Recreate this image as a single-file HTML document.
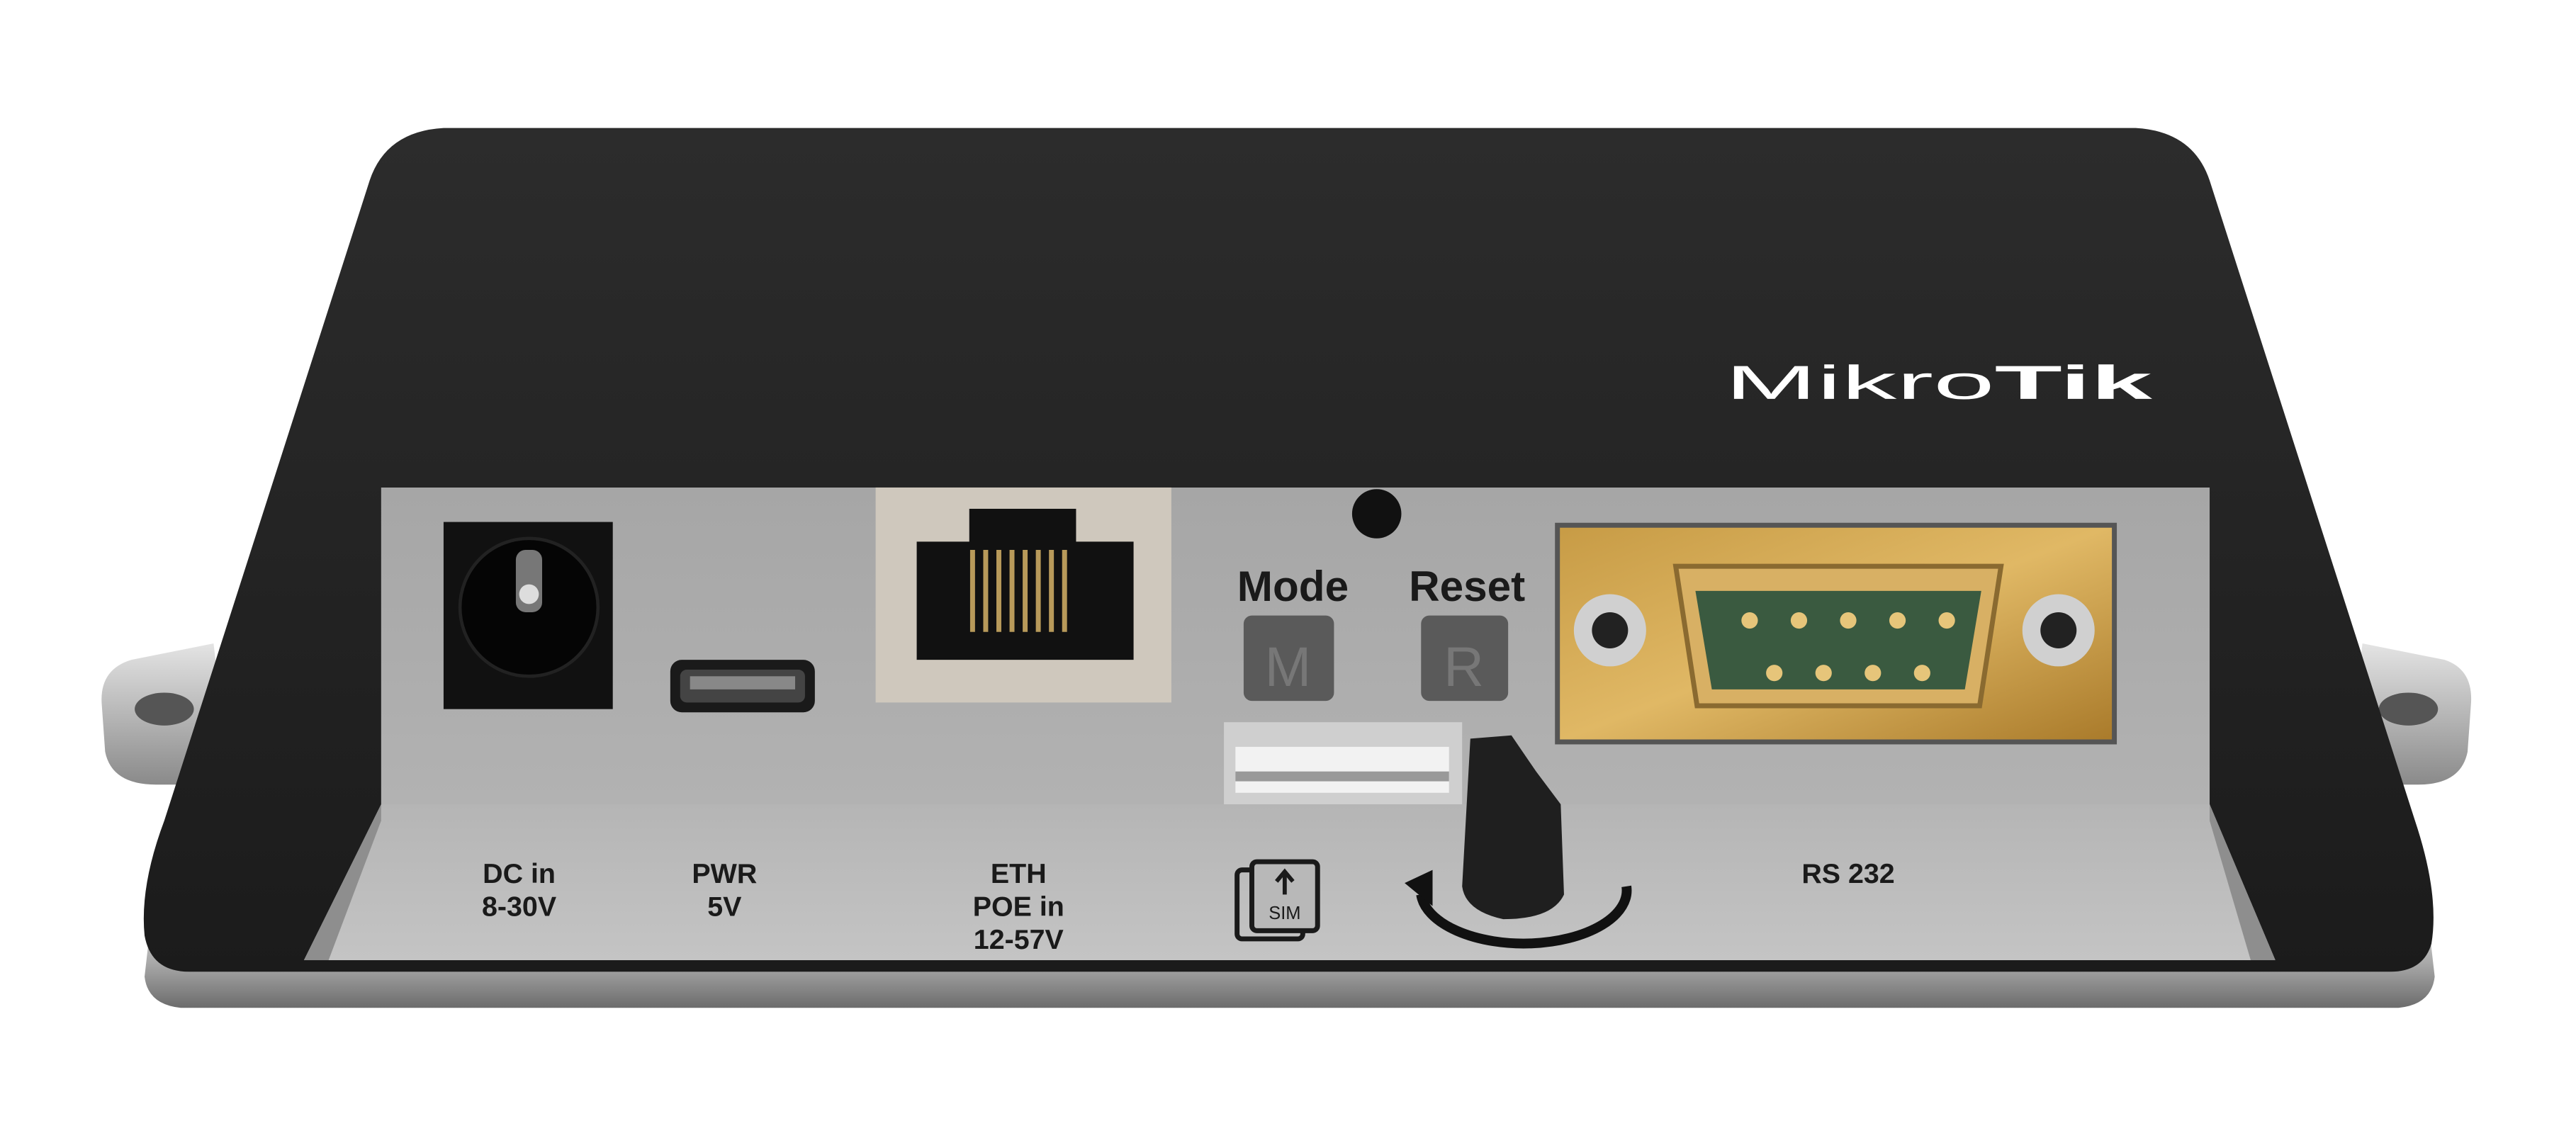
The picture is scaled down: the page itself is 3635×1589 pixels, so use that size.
<!DOCTYPE html>
<html><head><meta charset="utf-8">
<style>
html,body{margin:0;padding:0;background:#fff;}
svg{display:block;}
text{font-family:"Liberation Sans",sans-serif;}
</style></head>
<body>
<svg width="3635" height="1589" viewBox="0 0 1568 686" preserveAspectRatio="none" xmlns="http://www.w3.org/2000/svg">
<defs>
<linearGradient id="base" x1="0" y1="0" x2="0" y2="1">
<stop offset="0" stop-color="#d6d6d6"/><stop offset="0.5" stop-color="#a8a8a8"/><stop offset="1" stop-color="#6c6c6c"/></linearGradient>
<linearGradient id="flange" x1="0" y1="0" x2="0" y2="1">
<stop offset="0" stop-color="#e4e4e4"/><stop offset="1" stop-color="#8a8a8a"/></linearGradient>
<linearGradient id="panel" x1="0" y1="0" x2="0" y2="1">
<stop offset="0" stop-color="#a6a6a6"/><stop offset="1" stop-color="#b2b2b2"/></linearGradient>
<linearGradient id="floor" x1="0" y1="0" x2="0" y2="1">
<stop offset="0" stop-color="#b5b5b5"/><stop offset="1" stop-color="#c4c4c4"/></linearGradient>
<linearGradient id="gold" x1="0" y1="0" x2="1" y2="1">
<stop offset="0" stop-color="#c79b45"/><stop offset="0.5" stop-color="#e0b865"/><stop offset="1" stop-color="#a97a2a"/></linearGradient>
<linearGradient id="top" x1="0" y1="0" x2="0" y2="1">
<stop offset="0" stop-color="#2c2c2c"/><stop offset="1" stop-color="#1b1b1b"/></linearGradient>
</defs>
<rect width="1568" height="686" fill="#fff"/>
<path d="M130 392 L80 402 Q60 408 62 430 L64 458 Q68 478 95 478 L140 478 Z" fill="url(#flange)"/>
<ellipse cx="100" cy="432" rx="18" ry="10" fill="#555"/>
<path d="M1438 392 L1488 402 Q1506 408 1504 430 L1502 458 Q1498 478 1472 478 L1428 478 Z" fill="url(#flange)"/>
<ellipse cx="1466" cy="432" rx="18" ry="10" fill="#555"/>
<path d="M92 560 L1478 560 L1482 595 Q1480 612 1460 614 L110 614 Q90 612 88 595 Z" fill="url(#base)"/>
<path d="M270 78 L1300 78 Q1335 80 1345 110 L1470 500 Q1485 545 1480 575 Q1475 592 1455 592 L115 592 Q92 592 88 570 Q85 540 100 500 L225 110 Q235 80 270 78 Z" fill="url(#top)"/>
<path d="M232 297 L1345 297 L1345 490 L232 490 Z" fill="url(#panel)"/>
<path d="M232 490 L1345 490 L1385 585 L185 585 Z" fill="url(#floor)"/>
<path d="M232 297 L232 490 L185 585 L200 585 L232 500 Z" fill="#8e8e8e"/>
<path d="M1345 297 L1345 490 L1385 585 L1370 585 L1345 500 Z" fill="#8e8e8e"/>
<text x="1050" y="243" font-size="29" fill="#fff" textLength="260" lengthAdjust="spacingAndGlyphs">Mikro<tspan font-weight="bold">Tik</tspan></text>
<rect x="270" y="318" width="103" height="114" fill="#111"/>
<circle cx="322" cy="370" r="42" fill="#050505" stroke="#222" stroke-width="2"/>
<rect x="314" y="335" width="16" height="38" rx="6" fill="#777"/>
<circle cx="322" cy="362" r="6" fill="#ddd"/>
<rect x="408" y="402" width="88" height="32" rx="7" fill="#1a1a1a"/>
<rect x="414" y="408" width="76" height="20" rx="4" fill="#444"/>
<rect x="420" y="412" width="64" height="8" fill="#888"/>
<rect x="533" y="297" width="180" height="131" fill="#cfc8bd"/>
<path d="M590 310 L655 310 L655 330 L690 330 L690 402 L558 402 L558 330 L590 330 Z" fill="#111"/>
<g stroke="#b89a5a" stroke-width="3">
<line x1="592" y1="335" x2="592" y2="385"/><line x1="600" y1="335" x2="600" y2="385"/><line x1="608" y1="335" x2="608" y2="385"/><line x1="616" y1="335" x2="616" y2="385"/><line x1="624" y1="335" x2="624" y2="385"/><line x1="632" y1="335" x2="632" y2="385"/><line x1="640" y1="335" x2="640" y2="385"/><line x1="648" y1="335" x2="648" y2="385"/>
</g>
<circle cx="838" cy="313" r="15" fill="#111"/>
<text x="787" y="366" font-size="26" font-weight="bold" text-anchor="middle" fill="#1a1a1a">Mode</text>
<text x="893" y="366" font-size="26" font-weight="bold" text-anchor="middle" fill="#1a1a1a">Reset</text>
<rect x="757" y="375" width="55" height="52" rx="5" fill="#5a5a5a"/>
<text x="784" y="418" font-size="34" text-anchor="middle" fill="#777">M</text>
<rect x="865" y="375" width="53" height="52" rx="5" fill="#5a5a5a"/>
<text x="891" y="418" font-size="34" text-anchor="middle" fill="#777">R</text>
<rect x="745" y="440" width="145" height="50" fill="#cfcfcf"/>
<rect x="752" y="455" width="130" height="28" fill="#f2f2f2"/>
<rect x="752" y="470" width="130" height="6" fill="#999"/>
<path d="M895 450 L920 448 L935 470 L950 490 L952 545 Q945 560 915 560 Q892 555 890 540 Z" fill="#1f1f1f"/>
<rect x="948" y="320" width="339" height="132" fill="url(#gold)" stroke="#555" stroke-width="3"/>
<circle cx="980" cy="384" r="22" fill="#d0d0d0"/><circle cx="980" cy="384" r="11" fill="#222"/>
<circle cx="1253" cy="384" r="22" fill="#d0d0d0"/><circle cx="1253" cy="384" r="11" fill="#222"/>
<path d="M1020 345 L1218 345 L1205 430 L1033 430 Z" fill="#d8b064" stroke="#8a6a30" stroke-width="3"/>
<path d="M1032 360 L1206 360 L1196 420 L1042 420 Z" fill="#3a5a40"/>
<g fill="#e6c57a">
<circle cx="1065" cy="378" r="5"/><circle cx="1095" cy="378" r="5"/><circle cx="1125" cy="378" r="5"/><circle cx="1155" cy="378" r="5"/><circle cx="1185" cy="378" r="5"/>
<circle cx="1080" cy="410" r="5"/><circle cx="1110" cy="410" r="5"/><circle cx="1140" cy="410" r="5"/><circle cx="1170" cy="410" r="5"/>
</g>
<g font-size="17" font-weight="bold" fill="#1a1a1a" text-anchor="middle">
<text x="316" y="538">DC in</text><text x="316" y="558">8-30V</text>
<text x="441" y="538">PWR</text><text x="441" y="558">5V</text>
<text x="620" y="538">ETH</text><text x="620" y="558">POE in</text><text x="620" y="578">12-57V</text>
<text x="1125" y="538">RS 232</text>
</g>
<rect x="753" y="530" width="40" height="42" rx="3" fill="none" stroke="#1a1a1a" stroke-width="3"/>
<rect x="762" y="525" width="40" height="42" rx="3" fill="#b8b8b8" stroke="#1a1a1a" stroke-width="3"/>
<text x="782" y="560" font-size="11" text-anchor="middle" fill="#1a1a1a">SIM</text>
<path d="M782 545 L782 532 M777 537 L782 531 L787 537" stroke="#1a1a1a" stroke-width="2.5" fill="none"/>
<path d="M865 545 A62 32 0 0 0 990 540" fill="none" stroke="#111" stroke-width="6"/>
<path d="M855 538 L872 530 L872 552 Z" fill="#111"/>
</svg>
</body></html>
